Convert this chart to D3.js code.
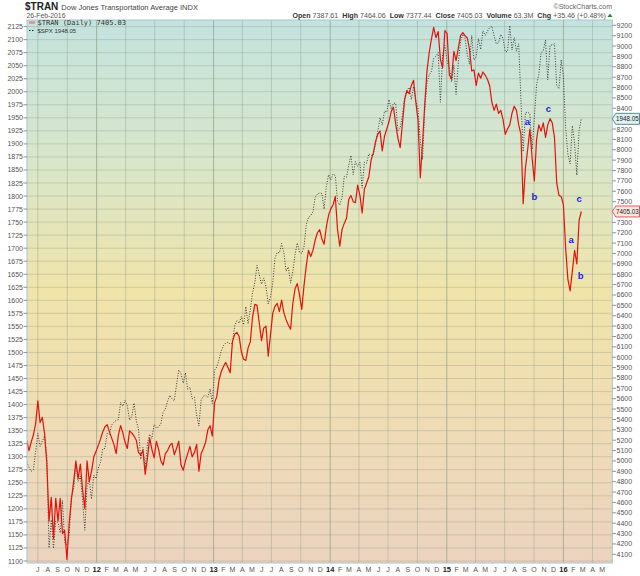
<!DOCTYPE html>
<html>
<head>
<meta charset="utf-8">
<script src="https://cdn.jsdelivr.net/npm/d3@7"></script>
<style>
  body { margin: 0; background: #fff; }
  svg { font-family: "Liberation Sans", Arial, sans-serif; }
</style>
</head>
<body>
<div id="chart"></div>
<script>
// weekly samples (Fridays), first one 27 May 2011
const firstWeek = new Date(2011, 4, 27);

const tran = [
  5200, 5100, 5180, 5250, 5360, 5580, 5370, 5420, 5260, 4980,
  4420, 4650, 4250, 4640, 4420, 4640, 4300, 4330, 4050, 4400,
  4630, 4800, 5000, 4830, 4970, 4720, 4540, 5000, 4800, 4900,
  5040, 5090,
  // 2012
  5150, 5210, 5280, 5330, 5350, 5280, 5220, 5160, 5070, 5250,
  5340, 5270, 5180, 5120, 5290, 5270, 5240, 5200, 5080, 5060,
  5100, 4870, 5030, 5220, 5110, 5030, 5190, 5110, 5000, 4960,
  5070, 5100, 5150, 5170, 5060, 5120, 5190, 4960, 4910, 5000,
  5070, 5140, 5040, 5080, 5160, 4900, 5070, 5120, 5180, 5300,
  5340, 5240,
  // 2013
  5560, 5620, 5780, 5860, 5910, 5950, 5900, 5850, 6150, 6220,
  6240, 6200, 6050, 5980, 5970, 6090, 6150, 6390, 6510, 6500,
  6330, 6160, 6280, 6300, 6010, 6210, 6420, 6490, 6520, 6440,
  6550, 6430, 6360, 6310, 6270, 6520, 6660, 6710, 6600, 6460,
  6690, 6880, 7030, 6970, 7030, 7130, 7200, 7230, 7140, 7090,
  7260, 7370,
  // 2014
  7430, 7470, 7550, 7230, 7070, 7230, 7290, 7340, 7520, 7560,
  7500, 7490, 7660, 7560, 7390, 7620, 7680, 7740, 7900, 7970,
  8080, 8150, 8180, 7990, 8130, 8200, 8270, 8370, 8410, 8250,
  8110, 8020, 8250, 8480, 8570, 8540, 8620, 8670, 8460, 8280,
  7730, 8060, 8440, 8760, 8940, 9070, 9180, 9080, 9140, 8870,
  8790, 9150,
  // 2015
  9120, 8720, 8680, 8950, 8860, 8980, 9100, 9130, 9100, 9080,
  8970, 8760, 8770, 8620, 8740, 8690, 8750, 8720, 8680, 8620,
  8460, 8380, 8440, 8350, 8380, 8290, 8150, 8200, 8240, 8350,
  8420, 8380, 8240, 8150, 7480, 7820, 8000, 8200, 7920, 7700,
  8100, 8240, 8180, 8260, 8120, 8240, 8300, 8260, 8120, 7680,
  7560, 7550,
  // 2016
  7470, 7050, 6750, 6640, 6830, 7030, 6900, 7320, 7405
];

const spx = [
  1290, 1280, 1272, 1275, 1310, 1345, 1320, 1330, 1340, 1300,
  1125, 1179, 1124, 1177, 1174, 1154, 1216, 1136, 1131, 1150,
  1224, 1238, 1285, 1253, 1263, 1216, 1159, 1244, 1255, 1219,
  1265, 1258,
  // 2012
  1278, 1289, 1315, 1316, 1345, 1343, 1361, 1366, 1370, 1371,
  1404, 1397, 1408, 1398, 1370, 1378, 1403, 1369, 1353, 1295,
  1318, 1278, 1325, 1343, 1335, 1362, 1355, 1357, 1363, 1386,
  1391, 1406, 1418, 1411, 1407, 1438, 1466, 1460, 1441, 1461,
  1429, 1433, 1411, 1414, 1380, 1359, 1409, 1416, 1418, 1414,
  1430, 1402,
  // 2013
  1466, 1472, 1486, 1503, 1513, 1518, 1520, 1516, 1518, 1551,
  1561, 1556, 1569, 1553, 1588, 1555, 1582, 1614, 1634, 1667,
  1650, 1631, 1643, 1626, 1593, 1606, 1632, 1680, 1692, 1691,
  1709, 1691, 1656, 1664, 1633, 1655, 1688, 1710, 1692, 1690,
  1703, 1745, 1759, 1762, 1770, 1798, 1804, 1806, 1805, 1775,
  1818, 1841,
  // 2014
  1831, 1842, 1839, 1790, 1783, 1797, 1838, 1836, 1859, 1878,
  1841, 1866, 1857, 1865, 1815, 1865, 1863, 1881, 1878, 1878,
  1901, 1924, 1950, 1936, 1963, 1961, 1985, 1967, 1978, 1978,
  1925, 1931, 1955, 1988, 2003, 2008, 1985, 2010, 1982, 1967,
  1906, 1870, 1965, 2018, 2032, 2039, 2064, 2068, 2075, 1980,
  2071, 2089,
  // 2015
  2058, 2045, 2019, 2051, 1995, 2055, 2097, 2110, 2104, 2071,
  2053, 2108, 2061, 2067, 2102, 2081, 2117, 2108, 2116, 2123,
  2126, 2107, 2092, 2094, 2110, 2102, 2077, 2077, 2127, 2080,
  2104, 2078, 2092, 1985, 1885, 1960, 1961, 1958, 1890, 1951,
  2014, 2033, 2075, 2079, 2099, 2023, 2089, 2090, 2092, 2012,
  2006, 2061,
  // 2016
  2030, 1930, 1880, 1862, 1935, 1900, 1840, 1925, 1948
];

const leftTicks = d3.range(1100, 2126, 25);
const rightTicks = d3.range(4100, 9201, 100);
const monthNames = ['J', 'F', 'M', 'A', 'M', 'J', 'J', 'A', 'S', 'O', 'N', 'D'];

const notes = [
  { label: 'a', date: '2015-09-10', value: 8268 },
  { label: 'b', date: '2015-10-02', value: 7542 },
  { label: 'c', date: '2015-11-15', value: 8396 },
  { label: 'a', date: '2016-01-25', value: 7133 },
  { label: 'b', date: '2016-02-24', value: 6780 },
  { label: 'c', date: '2016-02-19', value: 7525 }
];

const header = [
  ['Open', '7387.61'], ['High', '7464.06'], ['Low', '7377.44'],
  ['Close', '7405.03'], ['Volume', '63.3M'], ['Chg', '+35.46 (+0.48%)']
];

const W = 640, H = 576;
const plot = { left: 27, right: 612.3, top: 20, bottom: 563 };

const dates = tran.map((d, i) => d3.timeDay.offset(firstWeek, 7 * i));

const x = d3.scaleTime()
  .domain([new Date(2011, 4, 28), new Date(2016, 5, 2)])
  .range([plot.left, plot.right]);
const yL = d3.scaleLinear().domain([1100, 2125]).range([561, 26.6]);
const yR = d3.scaleLinear().domain([4100, 9200]).range([554.3, 25.3]);

const svg = d3.select('#chart').append('svg')
  .attr('width', W)
  .attr('height', H);

const defs = svg.append('defs');
const grad = defs.append('linearGradient')
  .attr('id', 'bg')
  .attr('x1', 0).attr('y1', 0).attr('x2', 0).attr('y2', 1);
[[0, '#c3e3de'], [0.25, '#d8e6cb'], [0.5, '#f0e4aa'], [0.75, '#efdcb6'], [1, '#ebd3bf']]
  .forEach(s => grad.append('stop').attr('offset', s[0]).attr('stop-color', s[1]));

defs.append('clipPath').attr('id', 'clip')
  .append('rect')
  .attr('x', plot.left).attr('y', plot.top)
  .attr('width', plot.right - plot.left).attr('height', plot.bottom - plot.top);

svg.append('rect')
  .attr('x', plot.left).attr('y', plot.top)
  .attr('width', plot.right - plot.left).attr('height', plot.bottom - plot.top)
  .attr('fill', 'url(#bg)');

// grid
svg.append('g').selectAll('line')
  .data(leftTicks)
  .enter().append('line')
  .attr('x1', plot.left).attr('x2', plot.right)
  .attr('y1', d => yL(d)).attr('y2', d => yL(d))
  .attr('stroke', '#8f9c86').attr('stroke-opacity', 0.35).attr('stroke-width', 1);

const quarters = d3.timeMonth.every(3).range(x.domain()[0], x.domain()[1]);
svg.append('g').selectAll('line')
  .data(quarters)
  .enter().append('line')
  .attr('x1', d => x(d)).attr('x2', d => x(d))
  .attr('y1', plot.top).attr('y2', plot.bottom)
  .attr('stroke', '#8f9c86')
  .attr('stroke-opacity', d => d.getMonth() === 0 ? 0.7 : 0.4)
  .attr('stroke-width', 1);

// series
const g = svg.append('g').attr('clip-path', 'url(#clip)');

g.append('path')
  .datum(spx)
  .attr('fill', 'none')
  .attr('stroke', '#3a3a3a')
  .attr('stroke-width', 1)
  .attr('stroke-dasharray', '1,1.6')
  .attr('d', d3.line().x((d, i) => x(dates[i])).y(d => yL(d)));

g.append('path')
  .datum(tran)
  .attr('fill', 'none')
  .attr('stroke', '#e3120b')
  .attr('stroke-width', 1.2)
  .attr('stroke-linejoin', 'round')
  .attr('d', d3.line().x((d, i) => x(dates[i])).y(d => yR(d)));

// frame
svg.append('rect')
  .attr('x', plot.left).attr('y', plot.top)
  .attr('width', plot.right - plot.left).attr('height', plot.bottom - plot.top)
  .attr('fill', 'none').attr('stroke', '#a9c3d3').attr('stroke-width', 1);

// left axis
const la = svg.append('g').attr('font-size', 7).attr('fill', '#555');
la.selectAll('text')
  .data(leftTicks)
  .enter().append('text')
  .attr('x', 23).attr('y', d => yL(d) + 2.5)
  .attr('text-anchor', 'end')
  .text(d => d);
la.selectAll('line')
  .data(leftTicks)
  .enter().append('line')
  .attr('x1', 23.5).attr('x2', plot.left)
  .attr('y1', d => yL(d)).attr('y2', d => yL(d))
  .attr('stroke', '#777').attr('stroke-width', 0.8);

// right axis (7400 and 8300 hidden by the value tags)
const rightShown = rightTicks.filter(d => d !== 7400 && d !== 8300);
const ra = svg.append('g').attr('font-size', 7).attr('fill', '#555');
ra.selectAll('text')
  .data(rightShown)
  .enter().append('text')
  .attr('x', 616.5).attr('y', d => yR(d) + 2.5)
  .text(d => d);
ra.selectAll('line')
  .data(rightShown)
  .enter().append('line')
  .attr('x1', plot.right).attr('x2', 616)
  .attr('y1', d => yR(d)).attr('y2', d => yR(d))
  .attr('stroke', '#777').attr('stroke-width', 0.8);

// value tags
function tag(yPos, text, stroke, fill, color) {
  const t = svg.append('g');
  t.append('path')
    .attr('d', `M${plot.right},${yPos} L${plot.right + 3.5},${yPos - 5.5} L639.5,${yPos - 5.5} L639.5,${yPos + 5.5} L${plot.right + 3.5},${yPos + 5.5} Z`)
    .attr('fill', fill).attr('stroke', stroke).attr('stroke-width', 0.8);
  t.append('text')
    .attr('x', plot.right + 3.8).attr('y', yPos + 2.4)
    .attr('font-size', 6.6).attr('fill', color)
    .attr('textLength', 22.5).attr('lengthAdjust', 'spacingAndGlyphs')
    .text(text);
}
tag(yL(spx[spx.length - 1] + 0.05), '1948.05', '#3d6f7a', '#dff0f0', '#222');
tag(yR(tran[tran.length - 1] + 0.03), '7405.03', '#d33', '#f6e6e0', '#222');

// x axis labels
const months = d3.timeMonth.range(new Date(2011, 6, 1), new Date(2016, 5, 1));
svg.append('g').selectAll('text')
  .data(months)
  .enter().append('text')
  .attr('x', d => x(d))
  .attr('y', 572)
  .attr('text-anchor', 'middle')
  .attr('font-size', d => d.getMonth() === 0 ? 7.5 : 7)
  .attr('font-weight', d => d.getMonth() === 0 ? 'bold' : 'normal')
  .attr('fill', d => d.getMonth() === 0 ? '#222' : '#555')
  .text(d => d.getMonth() === 0 ? d3.timeFormat('%y')(d) : monthNames[d.getMonth()]);

// wave labels
const parse = d3.timeParse('%Y-%m-%d');
svg.append('g').selectAll('text')
  .data(notes)
  .enter().append('text')
  .attr('x', d => x(parse(d.date)))
  .attr('y', d => yR(d.value) + 3)
  .attr('text-anchor', 'middle')
  .attr('font-size', 9.5)
  .attr('font-weight', 'bold')
  .attr('fill', '#2222dd')
  .text(d => d.label);

// legend
svg.append('rect').attr('x', 29).attr('y', 21.3).attr('width', 6).attr('height', 2.4).attr('fill', '#e88');
svg.append('text').attr('x', 37.5).attr('y', 25.3)
  .attr('font-family', '"DejaVu Sans Mono", monospace').attr('font-size', 7).attr('fill', '#333')
  .text('$TRAN (Daily) 7405.03');
svg.append('line').attr('x1', 29).attr('x2', 34).attr('y1', 30.5).attr('y2', 30.5)
  .attr('stroke', '#222').attr('stroke-width', 1.2).attr('stroke-dasharray', '1.5,1.5');
svg.append('text').attr('x', 37.5).attr('y', 33)
  .attr('font-size', 6).attr('fill', '#333')
  .text('$SPX 1948.05');

// title block
const title = svg.append('text').attr('x', 25).attr('y', 9.5).attr('fill', '#222');
title.append('tspan').attr('font-size', 10).attr('font-weight', 'bold').text('$TRAN');
title.append('tspan').attr('font-size', 7.5).attr('fill', '#444').attr('dx', 3)
  .text('Dow Jones Transportation Average  INDX');
svg.append('text').attr('x', 26.5).attr('y', 18).attr('font-size', 6.8).attr('fill', '#555')
  .text('26-Feb-2016');

svg.append('text').attr('x', 612).attr('y', 9).attr('text-anchor', 'end')
  .attr('font-size', 7).attr('fill', '#666').text('\u00a9StockCharts.com');

const hdr = svg.append('text').attr('x', 606).attr('y', 17.5).attr('text-anchor', 'end')
  .attr('font-size', 7.1).attr('fill', '#333');
header.forEach((h, i) => {
  hdr.append('tspan').attr('font-weight', 'bold').attr('dx', i ? 4 : 0).text(h[0]);
  hdr.append('tspan').attr('fill', '#555').attr('dx', 2).text(h[1]);
});
svg.append('path').attr('d', 'M607.5,17 L610,13.5 L612.5,17 Z').attr('fill', '#2a8a2a');
</script>
</body>
</html>
